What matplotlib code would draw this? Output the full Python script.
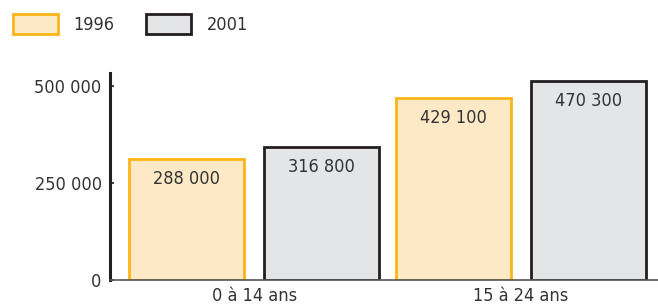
## Population par groupe d'age, 1996 et 2001
import numpy as np
import matplotlib.pyplot as plt
from matplotlib.patches import Patch

# Donnees
groupes = ["0 à 14 ans", "15 à 24 ans"]
annees = ["1996", "2001"]
hauteurs_1996 = [311000, 467500]
hauteurs_2001 = [343300, 512000]
etiquettes_1996 = ["288 000", "429 100"]
etiquettes_2001 = ["316 800", "470 300"]
yticks = [0, 250000, 500000]
ytick_labels = ["0", "250 000", "500 000"]

# Styles
fill_96, edge_96 = "#fde9c6", "#fbb516"
fill_01, edge_01 = "#e4e5e7", "#231f20"
txt = "#333333"
fs = 13
plt.rcParams["font.family"] = ["DejaVu Sans"]
plt.rcParams["font.stretch"] = "condensed"

fig = plt.figure(figsize=(6.58, 3.08), dpi=100)
ax = fig.add_axes([110/658, 1-280.3/308, 1-110/658, (280.3-73)/308])

x = np.arange(len(groupes))
w = 0.4315
off = 0.253
ax.bar(x - off, hauteurs_1996, w, color=fill_96, edgecolor=edge_96, linewidth=2.0)
ax.bar(x + off, hauteurs_2001, w, color=fill_01, edgecolor=edge_01, linewidth=2.0)

for xi, h, lab in zip(x - off, hauteurs_1996, etiquettes_1996):
    ax.annotate(lab, (xi, h), xytext=(0, -20), textcoords="offset pixels",
                ha="center", va="center", fontsize=fs, color=txt)
for xi, h, lab in zip(x + off, hauteurs_2001, etiquettes_2001):
    ax.annotate(lab, (xi, h), xytext=(0, -20), textcoords="offset pixels",
                ha="center", va="center", fontsize=fs, color=txt)

ax.set_xlim(-0.541, 1.515)
ax.set_ylim(0, 532600)
ax.set_xticks(x)
ax.set_xticklabels(groupes, fontsize=fs, color=txt)
ax.tick_params(axis="x", length=0, pad=5)
ax.set_yticks(yticks)
ax.set_yticklabels(ytick_labels, fontsize=fs, color=txt)
ax.tick_params(axis="y", direction="in", length=3, width=1.2, pad=6, color="#231f20")

ax.spines["top"].set_visible(False)
ax.spines["right"].set_visible(False)
ax.spines["left"].set_linewidth(2.2)
ax.spines["left"].set_color("#231f20")
ax.spines["bottom"].set_linewidth(1.2)
ax.spines["bottom"].set_color("#555555")

handles = [Patch(facecolor=fill_96, edgecolor=edge_96, linewidth=2.0),
           Patch(facecolor=fill_01, edgecolor=edge_01, linewidth=2.0)]
fig.legend(handles, annees, loc="upper left", bbox_to_anchor=(13/658, 1-14/308),
           ncol=2, frameon=False, fontsize=fs, labelcolor=txt, borderpad=0,
           borderaxespad=0, handlelength=2.5, handleheight=1.3,
           handletextpad=0.85, columnspacing=1.75)

fig.savefig("out.png", dpi=100)
